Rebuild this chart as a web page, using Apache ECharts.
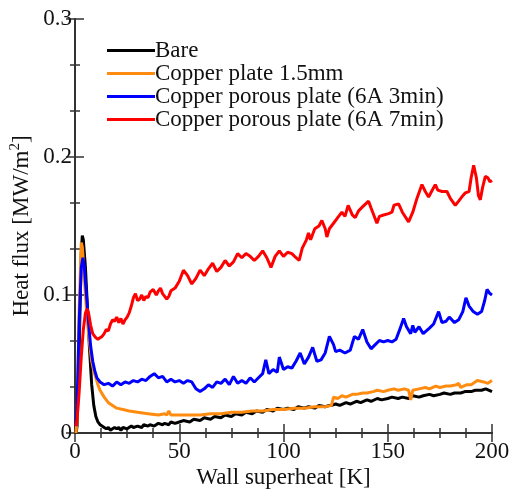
<!DOCTYPE html>
<html><head><meta charset="utf-8">
<script src="https://cdn.jsdelivr.net/npm/echarts@6/dist/echarts.min.js"></script>
<style>html,body{margin:0;padding:0;background:#fff}#c{width:512px;height:493px}</style>
</head><body><div id="c"></div>
<script>
const seriesNames = ['Bare','Copper plate 1.5mm','Copper porous plate (6A 3min)','Copper porous plate (6A 7min)'];
const xTicks = [0,50,100,150,200];
const yTicks = [0,0.1,0.2,0.3];

const bareX = [0.5,1,2,3,3.5,4,5,6,7,8,9,10,11,12,13,14,15,16,17,18,19,20,21,22,23,25,27,28,30,32,33,35,36,38,40,42,43,45,46,48,50,52,55,57,60,62,65,67,70,72,75,77,80,82,85,87,90,92,95,97,100,102,105,107,110,112,115,117,120,122,123,125,127,130,132,135,137,140,142,145,147,150,152,155,157,160,162,165,167,170,172,175,177,180,182,185,187,190,192,195,197,200];
const bareY = [0,0.005,0.06,0.13,0.143,0.14,0.12,0.09,0.06,0.035,0.02,0.012,0.008,0.006,0.005,0.004,0.003,0.004,0.002,0.003,0.004,0.003,0.004,0.002,0.004,0.003,0.005,0.004,0.005,0.004,0.006,0.005,0.006,0.005,0.007,0.006,0.007,0.006,0.008,0.007,0.008,0.009,0.008,0.010,0.009,0.011,0.010,0.012,0.011,0.013,0.012,0.014,0.013,0.015,0.014,0.016,0.015,0.017,0.016,0.018,0.017,0.018,0.017,0.019,0.018,0.019,0.018,0.020,0.019,0.020,0.020,0.021,0.020,0.022,0.021,0.023,0.022,0.024,0.023,0.025,0.024,0.025,0.026,0.025,0.026,0.025,0.027,0.026,0.027,0.028,0.027,0.028,0.029,0.028,0.029,0.029,0.030,0.030,0.031,0.031,0.032,0.030];

const plateX = [0.5,1,2,3,3.5,4,5,6,7,8,9,10,11,12,14,16,18,20,23,26,30,35,40,43,44,45,46,48,50,55,60,65,70,75,80,85,90,95,100,105,110,115,120,123,124,126,128,130,133,135,138,140,143,145,148,150,153,155,158,160,161,162,165,168,170,173,175,178,180,183,184,185,188,190,193,196,198,200];
const plateY = [0,0.01,0.09,0.138,0.135,0.125,0.10,0.08,0.065,0.052,0.045,0.04,0.035,0.031,0.026,0.022,0.020,0.018,0.017,0.016,0.015,0.014,0.013,0.014,0.013,0.016,0.013,0.013,0.013,0.013,0.013,0.014,0.014,0.015,0.015,0.016,0.016,0.017,0.017,0.018,0.018,0.019,0.019,0.020,0.026,0.025,0.027,0.026,0.028,0.028,0.029,0.029,0.030,0.031,0.030,0.031,0.032,0.031,0.032,0.031,0.024,0.031,0.032,0.033,0.032,0.034,0.033,0.034,0.034,0.035,0.036,0.033,0.035,0.035,0.038,0.037,0.036,0.038];

const p3X = [0.5,1,2,3,3.8,4.5,5.5,6.5,7.5,8.5,9.5,10.5,12,14,16,18,20,22,24,26,28,30,32,34,36,38,40,42,44,46,48,50,52,54,56,58,60,62,64,66,68,70,72,74,76,78,80,82,84,86,88,90,91.5,93,95,97,98,100,102,104,106,108,110,112,114,116,118,120,122,124,125,127,129.5,132,134,136,138,140,142,144,146,148,150,152,154,156,157.6,159,161,162,163,165,167,170,172,174.4,176,178,179.5,182,184,186,187.5,189,191,193,195,196.5,197.6,199,200];
const p3Y = [0.005,0.02,0.08,0.12,0.127,0.12,0.10,0.08,0.063,0.052,0.045,0.04,0.037,0.035,0.036,0.034,0.037,0.035,0.037,0.036,0.038,0.037,0.039,0.038,0.041,0.043,0.040,0.041,0.037,0.039,0.037,0.038,0.036,0.038,0.037,0.032,0.030,0.032,0.035,0.033,0.037,0.036,0.039,0.035,0.041,0.036,0.038,0.036,0.040,0.037,0.040,0.043,0.053,0.043,0.046,0.044,0.055,0.046,0.048,0.047,0.052,0.058,0.050,0.055,0.062,0.052,0.053,0.058,0.070,0.064,0.059,0.060,0.058,0.060,0.070,0.068,0.075,0.066,0.061,0.064,0.067,0.066,0.067,0.066,0.068,0.076,0.083,0.077,0.072,0.078,0.073,0.077,0.072,0.076,0.079,0.088,0.080,0.081,0.084,0.080,0.082,0.088,0.098,0.092,0.088,0.086,0.088,0.096,0.104,0.101,0.100];

const p7X = [0.5,1,2,3,4,5,5.8,6.5,7.5,8.5,10,11,12,13,14,15,16,17,18,19,20,21,22,23,24,25,26,27,28,29,30,31,32,33,34,35,36,37.5,39,40,41,42,44,45,46,48,50,52,54,56,57,58,60,62,64,66,68,70,72,74,76,78,80,82,84,86,88,90,92,94,96,98,100,102,104,106,107.5,109,111,112,113,115,117,118.4,120,120.8,122,124,126,128,129.5,131,133,134.4,136,138,140.8,142,144.8,146,148,150.4,152,153,155.2,157,160,162,164,166.4,168,169.6,171,172.8,174,176,178.4,180,182.4,184,186,187.2,189,190,191.2,192.5,193.5,194.4,195.5,196.8,198,199,200];
const p7Y = [0.005,0.01,0.03,0.055,0.075,0.087,0.090,0.087,0.078,0.072,0.069,0.068,0.069,0.070,0.072,0.075,0.074,0.079,0.082,0.081,0.084,0.080,0.083,0.079,0.082,0.084,0.087,0.092,0.098,0.101,0.096,0.097,0.100,0.096,0.099,0.098,0.102,0.104,0.100,0.103,0.105,0.101,0.097,0.099,0.103,0.105,0.110,0.118,0.114,0.108,0.110,0.112,0.118,0.114,0.119,0.123,0.117,0.120,0.125,0.121,0.124,0.130,0.127,0.130,0.128,0.125,0.128,0.132,0.127,0.120,0.128,0.132,0.128,0.131,0.130,0.127,0.125,0.134,0.140,0.145,0.140,0.148,0.150,0.154,0.148,0.142,0.148,0.152,0.156,0.160,0.157,0.165,0.158,0.156,0.161,0.164,0.168,0.163,0.152,0.157,0.158,0.159,0.160,0.165,0.166,0.160,0.153,0.160,0.170,0.180,0.175,0.171,0.175,0.180,0.176,0.175,0.175,0.170,0.165,0.168,0.172,0.174,0.175,0.185,0.194,0.185,0.172,0.169,0.178,0.186,0.185,0.182,0.183];

const colors = ['#000000','#ff8c10','#0000ff','#ff0000'];
const zip = (xs, ys) => xs.map((x, i) => [x, ys[i]]);
const allData = [zip(bareX,bareY), zip(plateX,plateY), zip(p3X,p3Y), zip(p7X,p7Y)];

const font = 'Liberation Serif';
const FS = 23;
const axisLineStyle = {show:true, lineStyle:{color:'#333', width:2}};
const tick = {show:true, inside:true, length:9, lineStyle:{color:'#333', width:1.5}};
const chart = echarts.init(document.getElementById('c'));
chart.setOption({
  animation:false,
  backgroundColor:'#fff',
  grid:{left:75, right:20, top:19, bottom:60, containLabel:false, outerBoundsMode:'none'},
  legend:{
    orient:'vertical', left:102, top:34, itemWidth:48, itemHeight:3, itemGap:0,
    icon:'rect',
    textStyle:{fontFamily:font, fontSize:FS, color:'#111', padding:[0,0,0,-5], lineHeight:23},
    data:seriesNames
  },
  xAxis:[{
    type:'value', min:xTicks[0], max:xTicks[xTicks.length-1], interval:50,
    name:'Wall superheat [K]', nameLocation:'middle', nameGap:33, nameMoveOverlap:false,
    nameTextStyle:{fontFamily:font, fontSize:FS, color:'#111'},
    axisLine:axisLineStyle, axisTick:tick,
    minorTick:{show:true, splitNumber:4, length:5, lineStyle:{color:'#333', width:1.5}},
    axisLabel:{fontFamily:font, fontSize:FS, color:'#111', margin:7},
    splitLine:{show:false}
  },{
    type:'value', position:'top', min:0, max:200, interval:50,
    axisLine:axisLineStyle, axisTick:tick,
    minorTick:{show:true, splitNumber:4, length:5, lineStyle:{color:'#333', width:1.5}},
    axisLabel:{show:false}, splitLine:{show:false}
  }],
  yAxis:[{
    type:'value', min:yTicks[0], max:yTicks[yTicks.length-1], interval:0.1,
    name:'{a|Heat flux [MW/m}{s|2}{a|]}', nameLocation:'middle', nameGap:40, nameMoveOverlap:false,
    nameTextStyle:{rich:{a:{fontFamily:font, fontSize:FS, color:'#111'}, s:{fontFamily:font, fontSize:15, color:'#111', verticalAlign:'top', padding:[0,0,12,0]}}},
    axisLine:axisLineStyle, axisTick:tick,
    minorTick:{show:true, splitNumber:3, length:5, lineStyle:{color:'#333', width:1.5}},
    axisLabel:{fontFamily:font, fontSize:FS, color:'#111', margin:3, formatter:v=>v===0?'0':String(Math.round(v*10)/10)},
    splitLine:{show:false}
  },{
    type:'value', position:'right', min:0, max:0.3, interval:0.1,
    axisLine:axisLineStyle, axisTick:tick,
    minorTick:{show:true, splitNumber:3, length:5, lineStyle:{color:'#333', width:1.5}},
    axisLabel:{show:false}, splitLine:{show:false}
  }],
  series: seriesNames.map((n,i)=>({
    name:n, type:'line', data:allData[i], showSymbol:false, symbol:'none',
    lineStyle:{width:3, color:colors[i]}, itemStyle:{color:colors[i]}, z:2+i
  }))
});
</script></body></html>
